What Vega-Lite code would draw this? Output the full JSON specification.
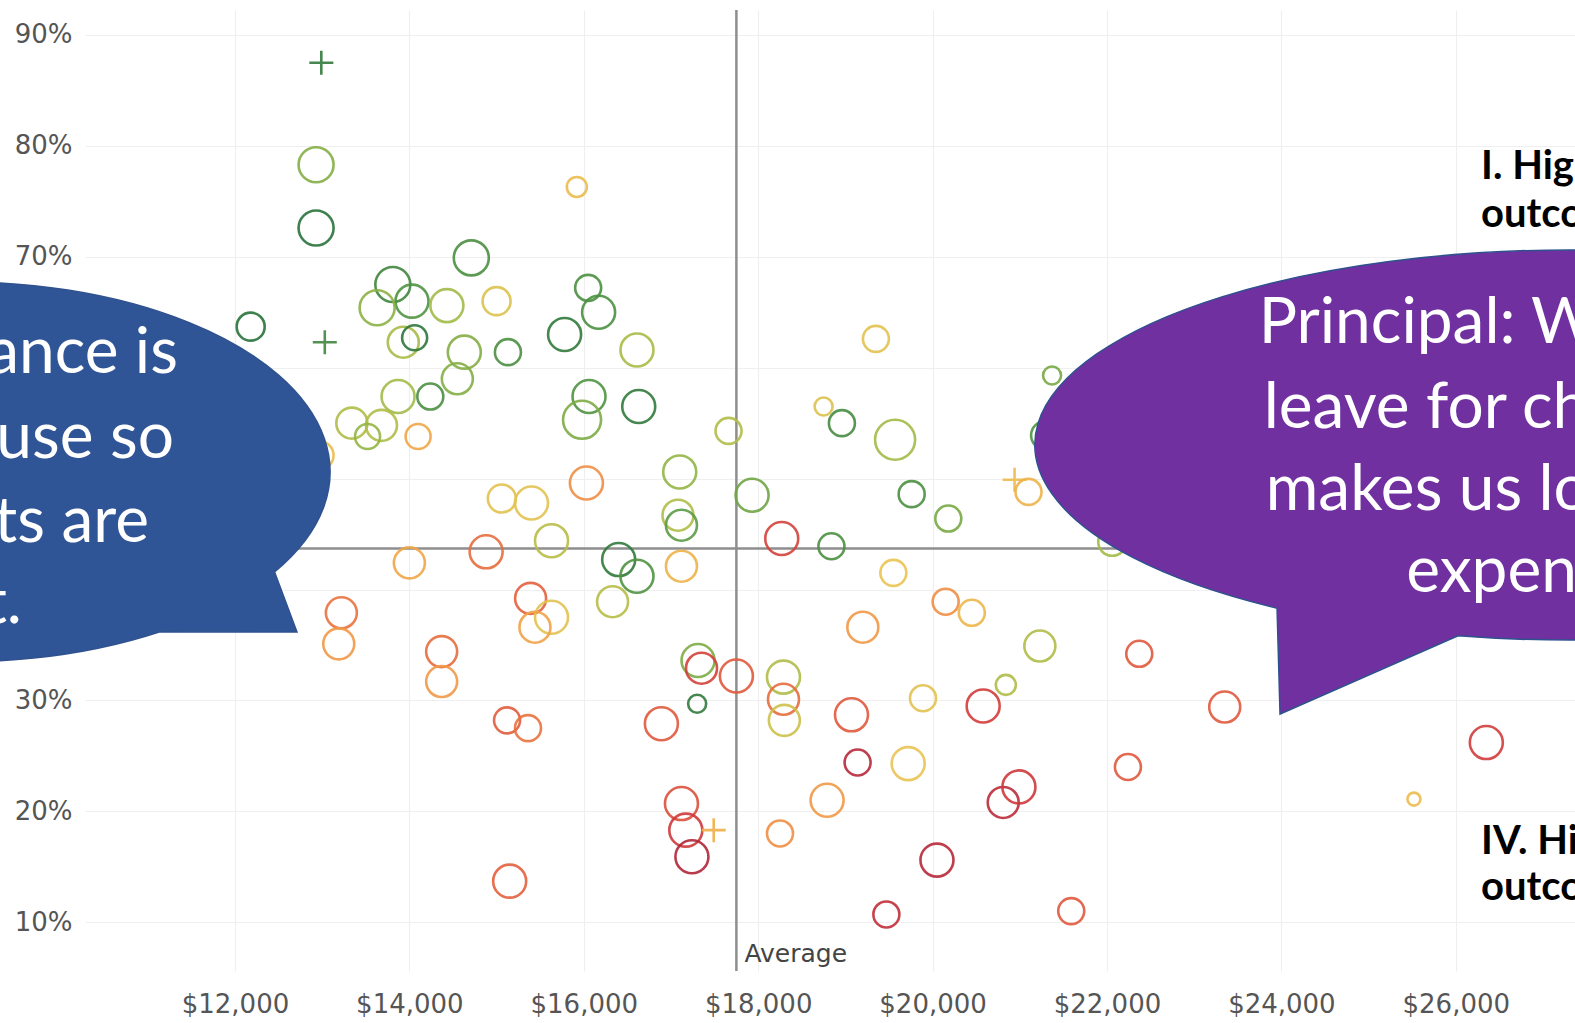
{
  "$schema": "https://vega.github.io/schema/vega-lite/v6.json",
  "width": 1490,
  "height": 961,
  "autosize": {"type": "none"},
  "padding": {"left": 85, "top": 10, "right": 0, "bottom": 52},
  "background": "white",
  "config": {
    "view": {"stroke": null},
    "axis": {
      "labelFont": "DejaVu Sans",
      "labelFontSize": 26,
      "labelColor": "#555555",
      "gridColor": "#efefef",
      "gridWidth": 1.2,
      "ticks": false,
      "domain": false,
      "title": null
    }
  },
  "datasets": {
    "schools": [
      {"spend": 12990, "rate": 0.875, "students": 576, "outcome": 6.8, "type": "Charter"},
      {"spend": 12930, "rate": 0.783, "students": 1225, "outcome": 5.4, "type": "District"},
      {"spend": 12930, "rate": 0.726, "students": 1225, "outcome": 7.0, "type": "District"},
      {"spend": 14710, "rate": 0.699, "students": 1225, "outcome": 6.3, "type": "District"},
      {"spend": 13810, "rate": 0.675, "students": 1225, "outcome": 6.5, "type": "District"},
      {"spend": 14030, "rate": 0.660, "students": 1089, "outcome": 6.2, "type": "District"},
      {"spend": 13630, "rate": 0.654, "students": 1225, "outcome": 5.3, "type": "District"},
      {"spend": 14430, "rate": 0.656, "students": 1089, "outcome": 5.0, "type": "District"},
      {"spend": 15000, "rate": 0.660, "students": 784, "outcome": 4.2, "type": "District"},
      {"spend": 12180, "rate": 0.637, "students": 784, "outcome": 7.0, "type": "District"},
      {"spend": 13030, "rate": 0.623, "students": 576, "outcome": 6.5, "type": "Charter"},
      {"spend": 13930, "rate": 0.623, "students": 961, "outcome": 4.9, "type": "District"},
      {"spend": 14060, "rate": 0.627, "students": 625, "outcome": 6.9, "type": "District"},
      {"spend": 14630, "rate": 0.614, "students": 1089, "outcome": 5.4, "type": "District"},
      {"spend": 15130, "rate": 0.614, "students": 676, "outcome": 6.3, "type": "District"},
      {"spend": 14550, "rate": 0.590, "students": 961, "outcome": 5.4, "type": "District"},
      {"spend": 14240, "rate": 0.574, "students": 676, "outcome": 6.3, "type": "District"},
      {"spend": 13870, "rate": 0.574, "students": 1089, "outcome": 5.0, "type": "District"},
      {"spend": 13340, "rate": 0.550, "students": 961, "outcome": 4.8, "type": "District"},
      {"spend": 13680, "rate": 0.548, "students": 961, "outcome": 4.8, "type": "District"},
      {"spend": 13520, "rate": 0.538, "students": 625, "outcome": 5.2, "type": "District"},
      {"spend": 14100, "rate": 0.538, "students": 625, "outcome": 3.3, "type": "District"},
      {"spend": 12970, "rate": 0.521, "students": 784, "outcome": 3.8, "type": "District"},
      {"spend": 15060, "rate": 0.482, "students": 784, "outcome": 4.1, "type": "District"},
      {"spend": 14000, "rate": 0.424, "students": 961, "outcome": 3.3, "type": "District"},
      {"spend": 14880, "rate": 0.434, "students": 1089, "outcome": 2.2, "type": "District"},
      {"spend": 13220, "rate": 0.379, "students": 961, "outcome": 2.3, "type": "District"},
      {"spend": 13190, "rate": 0.351, "students": 961, "outcome": 3.0, "type": "District"},
      {"spend": 14370, "rate": 0.344, "students": 961, "outcome": 2.2, "type": "District"},
      {"spend": 14370, "rate": 0.317, "students": 961, "outcome": 3.0, "type": "District"},
      {"spend": 15120, "rate": 0.282, "students": 676, "outcome": 1.9, "type": "District"},
      {"spend": 15360, "rate": 0.275, "students": 676, "outcome": 2.3, "type": "District"},
      {"spend": 15150, "rate": 0.137, "students": 1089, "outcome": 2.0, "type": "District"},
      {"spend": 15920, "rate": 0.763, "students": 400, "outcome": 3.8, "type": "District"},
      {"spend": 16050, "rate": 0.672, "students": 676, "outcome": 6.3, "type": "District"},
      {"spend": 16170, "rate": 0.650, "students": 1089, "outcome": 6.3, "type": "District"},
      {"spend": 15780, "rate": 0.630, "students": 1089, "outcome": 6.8, "type": "District"},
      {"spend": 16610, "rate": 0.616, "students": 1089, "outcome": 4.9, "type": "District"},
      {"spend": 19350, "rate": 0.626, "students": 676, "outcome": 4.1, "type": "District"},
      {"spend": 16060, "rate": 0.574, "students": 1089, "outcome": 6.2, "type": "District"},
      {"spend": 15980, "rate": 0.553, "students": 1444, "outcome": 5.5, "type": "District"},
      {"spend": 16630, "rate": 0.565, "students": 1089, "outcome": 6.8, "type": "District"},
      {"spend": 17660, "rate": 0.543, "students": 676, "outcome": 4.8, "type": "District"},
      {"spend": 18750, "rate": 0.565, "students": 324, "outcome": 4.2, "type": "District"},
      {"spend": 18960, "rate": 0.550, "students": 676, "outcome": 6.4, "type": "District"},
      {"spend": 19570, "rate": 0.535, "students": 1600, "outcome": 5.0, "type": "District"},
      {"spend": 16030, "rate": 0.496, "students": 1089, "outcome": 2.8, "type": "District"},
      {"spend": 17100, "rate": 0.506, "students": 1089, "outcome": 5.2, "type": "District"},
      {"spend": 15400, "rate": 0.478, "students": 1089, "outcome": 4.1, "type": "District"},
      {"spend": 17080, "rate": 0.467, "students": 961, "outcome": 4.8, "type": "District"},
      {"spend": 17120, "rate": 0.458, "students": 961, "outcome": 6.0, "type": "District"},
      {"spend": 17930, "rate": 0.485, "students": 1089, "outcome": 5.7, "type": "District"},
      {"spend": 19760, "rate": 0.486, "students": 676, "outcome": 6.3, "type": "District"},
      {"spend": 20180, "rate": 0.464, "students": 676, "outcome": 5.6, "type": "District"},
      {"spend": 18270, "rate": 0.446, "students": 1089, "outcome": 1.2, "type": "District"},
      {"spend": 18840, "rate": 0.439, "students": 676, "outcome": 6.3, "type": "District"},
      {"spend": 15630, "rate": 0.444, "students": 1089, "outcome": 4.7, "type": "District"},
      {"spend": 16400, "rate": 0.427, "students": 1089, "outcome": 6.8, "type": "District"},
      {"spend": 16610, "rate": 0.412, "students": 1089, "outcome": 6.2, "type": "District"},
      {"spend": 17120, "rate": 0.421, "students": 961, "outcome": 3.6, "type": "District"},
      {"spend": 16330, "rate": 0.389, "students": 961, "outcome": 4.7, "type": "District"},
      {"spend": 15390, "rate": 0.392, "students": 961, "outcome": 2.0, "type": "District"},
      {"spend": 15630, "rate": 0.375, "students": 1089, "outcome": 4.1, "type": "District"},
      {"spend": 15440, "rate": 0.366, "students": 961, "outcome": 3.2, "type": "District"},
      {"spend": 19550, "rate": 0.415, "students": 676, "outcome": 4.0, "type": "District"},
      {"spend": 20150, "rate": 0.389, "students": 676, "outcome": 2.8, "type": "District"},
      {"spend": 20450, "rate": 0.379, "students": 676, "outcome": 3.7, "type": "District"},
      {"spend": 19200, "rate": 0.366, "students": 961, "outcome": 3.0, "type": "District"},
      {"spend": 17310, "rate": 0.336, "students": 1089, "outcome": 5.5, "type": "District"},
      {"spend": 17350, "rate": 0.329, "students": 961, "outcome": 1.2, "type": "District"},
      {"spend": 17750, "rate": 0.322, "students": 1089, "outcome": 1.8, "type": "District"},
      {"spend": 17300, "rate": 0.297, "students": 324, "outcome": 6.8, "type": "District"},
      {"spend": 16890, "rate": 0.279, "students": 1089, "outcome": 1.8, "type": "District"},
      {"spend": 18290, "rate": 0.321, "students": 1089, "outcome": 4.8, "type": "District"},
      {"spend": 18290, "rate": 0.301, "students": 961, "outcome": 2.2, "type": "District"},
      {"spend": 18300, "rate": 0.282, "students": 961, "outcome": 4.4, "type": "District"},
      {"spend": 19070, "rate": 0.287, "students": 1089, "outcome": 1.8, "type": "District"},
      {"spend": 19890, "rate": 0.302, "students": 676, "outcome": 4.1, "type": "District"},
      {"spend": 19140, "rate": 0.244, "students": 676, "outcome": 0.5, "type": "District"},
      {"spend": 19720, "rate": 0.243, "students": 1089, "outcome": 4.0, "type": "District"},
      {"spend": 20580, "rate": 0.295, "students": 1089, "outcome": 1.1, "type": "District"},
      {"spend": 20840, "rate": 0.314, "students": 400, "outcome": 4.8, "type": "District"},
      {"spend": 18790, "rate": 0.210, "students": 1089, "outcome": 3.0, "type": "District"},
      {"spend": 18250, "rate": 0.180, "students": 676, "outcome": 2.8, "type": "District"},
      {"spend": 17120, "rate": 0.207, "students": 1089, "outcome": 1.6, "type": "District"},
      {"spend": 17170, "rate": 0.183, "students": 1089, "outcome": 1.0, "type": "District"},
      {"spend": 17240, "rate": 0.159, "students": 1089, "outcome": 0.4, "type": "District"},
      {"spend": 17490, "rate": 0.183, "students": 576, "outcome": 3.5, "type": "Charter"},
      {"spend": 20050, "rate": 0.156, "students": 1089, "outcome": 0.5, "type": "District"},
      {"spend": 19470, "rate": 0.107, "students": 676, "outcome": 0.7, "type": "District"},
      {"spend": 20810, "rate": 0.208, "students": 961, "outcome": 0.6, "type": "District"},
      {"spend": 20990, "rate": 0.222, "students": 1089, "outcome": 1.0, "type": "District"},
      {"spend": 21370, "rate": 0.593, "students": 324, "outcome": 5.6, "type": "District"},
      {"spend": 21290, "rate": 0.539, "students": 784, "outcome": 6.2, "type": "District"},
      {"spend": 20940, "rate": 0.499, "students": 576, "outcome": 3.8, "type": "Charter"},
      {"spend": 21100, "rate": 0.488, "students": 676, "outcome": 3.6, "type": "District"},
      {"spend": 22060, "rate": 0.443, "students": 784, "outcome": 5.0, "type": "District"},
      {"spend": 21230, "rate": 0.349, "students": 961, "outcome": 4.8, "type": "District"},
      {"spend": 22370, "rate": 0.342, "students": 676, "outcome": 1.8, "type": "District"},
      {"spend": 23350, "rate": 0.294, "students": 961, "outcome": 1.8, "type": "District"},
      {"spend": 22240, "rate": 0.240, "students": 676, "outcome": 1.8, "type": "District"},
      {"spend": 21590, "rate": 0.110, "students": 676, "outcome": 1.8, "type": "District"},
      {"spend": 25520, "rate": 0.211, "students": 169, "outcome": 3.8, "type": "District"},
      {"spend": 26350, "rate": 0.262, "students": 1089, "outcome": 1.1, "type": "District"}
    ],
    "averages": [
      {"spend": 17750, "rate": 0.437, "label": "Average", "labelRate": 0.0644}
    ],
    "quadrants": [
      {"spend": 26290, "rate": 0.7699, "line": "I. High spending, high"},
      {"spend": 26290, "rate": 0.7269, "line": "outcomes"},
      {"spend": 26290, "rate": 0.1615, "line": "IV. High spending, low"},
      {"spend": 26290, "rate": 0.1200, "line": "outcomes"}
    ],
    "bubbles": [
      {"speaker": "Superintendent", "spend": 8846, "rate": 0.506},
      {"speaker": "Principal", "spend": 27310, "rate": 0.5303}
    ],
    "quotes": [
      {"speaker": "Superintendent", "spend": 11346, "rate": 0.595, "line": "Our performance is"},
      {"speaker": "Superintendent", "spend": 11300, "rate": 0.5183, "line": "low because so"},
      {"speaker": "Superintendent", "spend": 11014, "rate": 0.4431, "line": "many students are"},
      {"speaker": "Superintendent", "spend": 9557, "rate": 0.3698, "line": "transient."},
      {"speaker": "Principal", "spend": 23739, "rate": 0.622, "line": "Principal: When our students"},
      {"speaker": "Principal", "spend": 23797, "rate": 0.5459, "line": "leave for charters it"},
      {"speaker": "Principal", "spend": 23820, "rate": 0.4717, "line": "makes us look more"},
      {"speaker": "Principal", "spend": 25432, "rate": 0.398, "line": "expensive."}
    ]
  },
  "layer": [
    {
      "data": {"name": "averages"},
      "mark": {"type": "rule", "color": "#8e8e8e", "strokeWidth": 2.5},
      "encoding": {
        "x": {
          "field": "spend", "type": "quantitative",
          "scale": {"domain": [10280, 27367], "nice": false, "zero": false},
          "axis": {
            "values": [12000, 14000, 16000, 18000, 20000, 22000, 24000, 26000],
            "format": "$,.0f",
            "labelPadding": 20,
            "grid": true
          }
        }
      }
    },
    {
      "data": {"name": "averages"},
      "mark": {"type": "rule", "color": "#8e8e8e", "strokeWidth": 2.5},
      "encoding": {
        "y": {
          "field": "rate", "type": "quantitative",
          "scale": {"domain": [0.056, 0.92254], "nice": false, "zero": false},
          "axis": {
            "values": [0.1, 0.2, 0.3, 0.4, 0.5, 0.6, 0.7, 0.8, 0.9],
            "format": ".0%",
            "labelPadding": 13,
            "grid": true
          }
        }
      }
    },
    {
      "data": {"name": "averages"},
      "mark": {
        "type": "text", "align": "left", "baseline": "alphabetic", "dx": 8,
        "font": "DejaVu Sans", "fontSize": 25, "color": "#444444"
      },
      "encoding": {
        "x": {"field": "spend", "type": "quantitative", "scale": {"domain": [10280, 27367], "nice": false, "zero": false}},
        "y": {"field": "labelRate", "type": "quantitative", "scale": {"domain": [0.056, 0.92254], "nice": false, "zero": false}},
        "text": {"field": "label"}
      }
    },
    {
      "data": {"name": "schools"},
      "mark": {"type": "point", "filled": false, "strokeWidth": 2.6, "opacity": 0.9},
      "encoding": {
        "x": {"field": "spend", "type": "quantitative", "scale": {"domain": [10280, 27367], "nice": false, "zero": false}},
        "y": {"field": "rate", "type": "quantitative", "scale": {"domain": [0.056, 0.92254], "nice": false, "zero": false}},
        "size": {
          "field": "students", "type": "quantitative",
          "scale": {"type": "linear", "domain": [0, 1600], "range": [0, 1600], "zero": true},
          "legend": null
        },
        "color": {
          "field": "outcome", "type": "quantitative",
          "scale": {
            "domain": [0, 1, 2, 3, 4, 5, 6, 7],
            "range": ["#9e1b37", "#cf3a3c", "#e4613f", "#f29a48", "#eac452", "#a3bb48", "#5c9c45", "#2a733b"]
          },
          "legend": null
        },
        "shape": {
          "field": "type", "type": "nominal",
          "scale": {"domain": ["District", "Charter"], "range": ["circle", "M-1,0H1M0,-1V1"]},
          "legend": null
        }
      }
    },
    {
      "data": {"name": "quadrants"},
      "mark": {
        "type": "text", "align": "left", "baseline": "alphabetic",
        "font": "Lato", "fontWeight": "bold", "fontSize": 40, "color": "#000000"
      },
      "encoding": {
        "x": {"field": "spend", "type": "quantitative", "scale": {"domain": [10280, 27367], "nice": false, "zero": false}},
        "y": {"field": "rate", "type": "quantitative", "scale": {"domain": [0.056, 0.92254], "nice": false, "zero": false}},
        "text": {"field": "line"}
      }
    },
    {
      "data": {"name": "bubbles"},
      "transform": [{"filter": "datum.speaker === 'Superintendent'"}],
      "mark": {
        "type": "point", "filled": true, "opacity": 1, "size": 4,
        "shape": "M314.6,100 A370,190 0 1 0 200,159.8 L337,160 Z",
        "fill": "#2f5597", "stroke": "#2f528f", "strokeWidth": 1.5
      },
      "encoding": {
        "x": {"field": "spend", "type": "quantitative", "scale": {"domain": [10280, 27367], "nice": false, "zero": false}},
        "y": {"field": "rate", "type": "quantitative", "scale": {"domain": [0.056, 0.92254], "nice": false, "zero": false}}
      }
    },
    {
      "data": {"name": "bubbles"},
      "transform": [{"filter": "datum.speaker === 'Principal'"}],
      "mark": {
        "type": "point", "filled": true, "opacity": 1, "size": 4,
        "shape": "M-112,190.7 A535,195 0 1 0 -293,163.2 L-290,269 Z",
        "fill": "#7030a0", "stroke": "#2f528f", "strokeWidth": 1.5
      },
      "encoding": {
        "x": {"field": "spend", "type": "quantitative", "scale": {"domain": [10280, 27367], "nice": false, "zero": false}},
        "y": {"field": "rate", "type": "quantitative", "scale": {"domain": [0.056, 0.92254], "nice": false, "zero": false}}
      }
    },
    {
      "data": {"name": "quotes"},
      "transform": [{"filter": "datum.speaker === 'Superintendent'"}],
      "mark": {
        "type": "text", "align": "right", "baseline": "alphabetic",
        "font": "Lato", "fontSize": 64, "color": "#ffffff"
      },
      "encoding": {
        "x": {"field": "spend", "type": "quantitative", "scale": {"domain": [10280, 27367], "nice": false, "zero": false}},
        "y": {"field": "rate", "type": "quantitative", "scale": {"domain": [0.056, 0.92254], "nice": false, "zero": false}},
        "text": {"field": "line"}
      }
    },
    {
      "data": {"name": "quotes"},
      "transform": [{"filter": "datum.speaker === 'Principal'"}],
      "mark": {
        "type": "text", "align": "left", "baseline": "alphabetic",
        "font": "Lato", "fontSize": 64, "color": "#ffffff"
      },
      "encoding": {
        "x": {"field": "spend", "type": "quantitative", "scale": {"domain": [10280, 27367], "nice": false, "zero": false}},
        "y": {"field": "rate", "type": "quantitative", "scale": {"domain": [0.056, 0.92254], "nice": false, "zero": false}},
        "text": {"field": "line"}
      }
    }
  ]
}
